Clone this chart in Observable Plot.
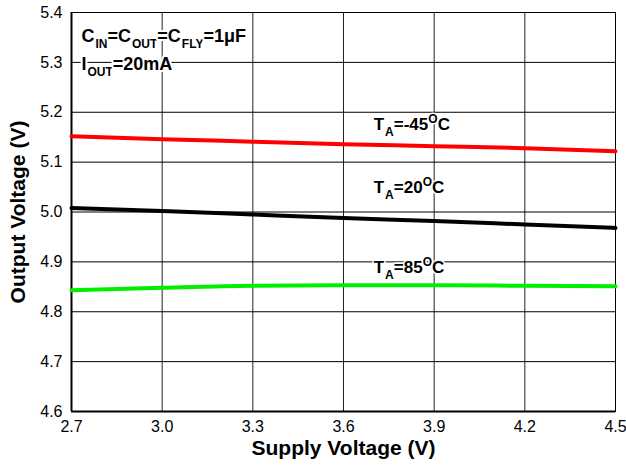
<!DOCTYPE html>
<html><head><meta charset="utf-8">
<script src="https://cdn.jsdelivr.net/npm/d3@7"></script>
<script src="https://cdn.jsdelivr.net/npm/@observablehq/plot@0.6"></script>
<style>body{margin:0;background:#fff}</style>
</head><body><div id="chart"></div>
<script>
const supplyV = [2.7, 3.0, 3.3, 3.6, 3.9, 4.2, 4.5];
const vMinus45 = [5.152, 5.146, 5.141, 5.136, 5.132, 5.128, 5.122];
const v20 = [5.008, 5.002, 4.995, 4.988, 4.982, 4.975, 4.968];
const v85 = [4.843, 4.848, 4.852, 4.853, 4.853, 4.852, 4.851];
const xTicks = [2.7, 3.0, 3.3, 3.6, 3.9, 4.2, 4.5];
const yTicks = [4.6, 4.7, 4.8, 4.9, 5.0, 5.1, 5.2, 5.3, 5.4];
const seriesNames = ["-45", "20", "85"];
const seriesColors = ["#ff0000", "#000000", "#00ee00"];
const seriesValues = [vMinus45, v20, v85];
const xTitle = "Supply Voltage (V)";
const yTitle = "Output Voltage (V)";

// label texts (rich: sub/sup parts)
const curveLabels = [
  {x: 3.70, y: 5.175, parts: [["T"], ["A", "sub"], ["=-45"], ["O", "sup"], ["C"]]},
  {x: 3.70, y: 5.049, parts: [["T"], ["A", "sub"], ["=20"], ["O", "sup"], ["C"]]},
  {x: 3.70, y: 4.889, parts: [["T"], ["A", "sub"], ["=85"], ["O", "sup"], ["C"]]}
];
const condLabels = [
  {x: 2.733, y: 5.352, parts: [["C"], ["IN", "sub"], ["=C"], ["OUT", "sub"], ["=C"], ["FLY", "sub"], ["=1μF"]]},
  {x: 2.733, y: 5.296, parts: [["I"], ["OUT", "sub"], ["=20mA"]]}
];

const rows = [];
seriesNames.forEach((s, k) => supplyV.forEach((v, i) => rows.push({s, x: v, y: seriesValues[k][i]})));

const fmt = d3.format(".1f");
const font = "'Liberation Sans', Arial, sans-serif";
const chart = Plot.plot({
  width: 626, height: 465,
  marginLeft: 71, marginRight: 11, marginTop: 12, marginBottom: 54,
  style: {fontFamily: font, fontSize: "16px", color: "#000", background: "#fff"},
  x: {domain: [2.7, 4.5], axis: null},
  y: {domain: [4.6, 5.4], axis: null},
  color: {domain: seriesNames, range: seriesColors},
  marks: [
    Plot.gridX(xTicks, {stroke: "#222", strokeOpacity: 1, strokeWidth: 1}),
    Plot.gridY(yTicks, {stroke: "#000", strokeOpacity: 1, strokeWidth: 1}),
    Plot.frame({stroke: "#000", strokeWidth: 1}),
    Plot.ruleX([2.7], {stroke: "#000", strokeWidth: 2}),
    Plot.ruleY([4.6], {stroke: "#000", strokeWidth: 2}),
    Plot.line(rows, {x: "x", y: "y", z: "s", stroke: "s", strokeWidth: 4, curve: "monotone-x"}),
    Plot.text(condLabels, {x: "x", y: "y", text: d => d.parts.map(p => p[0]).join(""), textAnchor: "start",
      fontSize: 18, fontWeight: "bold", fill: "#000", stroke: "#fff", strokeWidth: 4, className: "rich-cond"}),
    Plot.text(curveLabels, {x: "x", y: "y", text: d => d.parts.map(p => p[0]).join(""), textAnchor: "start",
      fontSize: 17, fontWeight: "bold", fill: "#000", stroke: "#fff", strokeWidth: 3, className: "rich-curve"}),
    // tick labels
    Plot.text(xTicks, {x: d => d, frameAnchor: "bottom", lineAnchor: "top", dy: 9, text: d => fmt(d), fontSize: 16, fill: "#000"}),
    Plot.text(yTicks, {y: d => d, frameAnchor: "left", textAnchor: "end", dx: -9, text: d => fmt(d), fontSize: 16, fill: "#000"}),
    Plot.text([xTitle], {frameAnchor: "bottom", dy: 43, fontSize: 21, fontWeight: "bold", fill: "#000"}),
    Plot.text([yTitle], {frameAnchor: "left", dx: -53, rotate: -90, textAnchor: "middle", fontSize: 21, fontWeight: "bold", fill: "#000"})
  ]
});

function enrich(cls, data, subSize) {
  d3.select(chart).selectAll("g." + cls + " text").each(function(_, i) {
    const t = d3.select(this);
    t.text(null);
    t.style("paint-order", "stroke").attr("stroke-linejoin", "round");
    let shift = 0;
    data[i].parts.forEach(([txt, kind]) => {
      const target = kind === "sub" ? 6 : kind === "sup" ? -7 : 0;
      const ts = t.append("tspan").text(txt).attr("dy", target - shift);
      if (kind) ts.attr("font-size", subSize);
      if (kind === "sub") ts.attr("dx", 1);
      shift = target;
    });
  });
}
enrich("rich-cond", condLabels, 12);
enrich("rich-curve", curveLabels, 12);

document.getElementById("chart").appendChild(chart);
</script></body></html>
